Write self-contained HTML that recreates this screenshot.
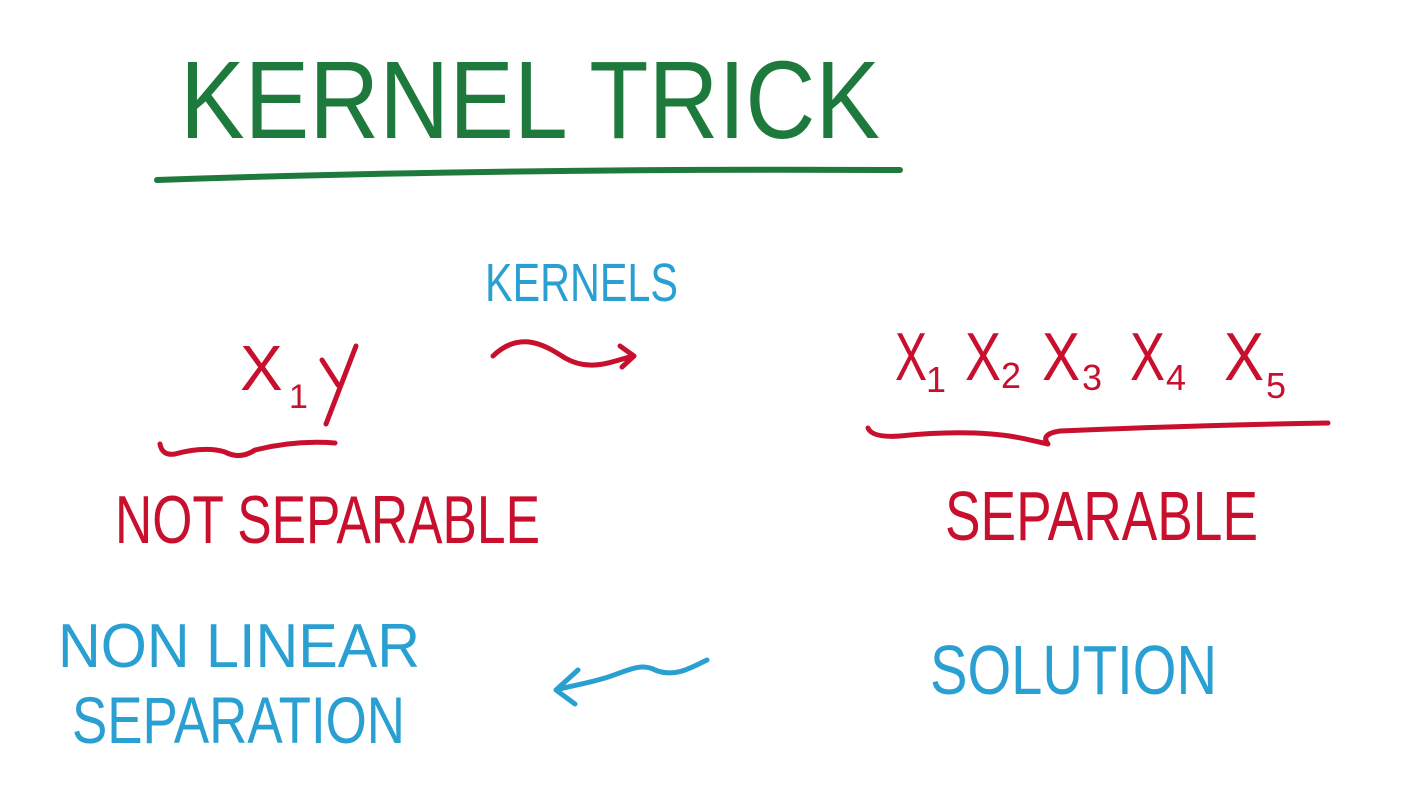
<!DOCTYPE html>
<html><head><meta charset="utf-8"><style>
html,body{margin:0;padding:0;background:#fff;}
svg{display:block}
text{font-family:"Liberation Sans",sans-serif;}
</style></head><body>
<svg width="1422" height="790" viewBox="0 0 1422 790" xmlns="http://www.w3.org/2000/svg">
<g fill="none" stroke-linecap="round" stroke-linejoin="round">
<path d="M157 180 Q500 168 900 170" stroke="#1e7a3c" stroke-width="6"/>
<path d="M493 356 C520 330 545 345 565 358 C590 372 610 362 633 356 M620 346 L634 356 L622 367" stroke="#c8102e" stroke-width="5"/>
<path d="M160 444 Q162 456 175 454 Q205 446 225 452 Q240 460 255 450 Q295 440 335 443" stroke="#c8102e" stroke-width="5"/>
<path d="M868 428 Q872 438 900 436 Q980 428 1030 440 L1048 444 Q1040 434 1060 431 Q1200 425 1328 423" stroke="#c8102e" stroke-width="5"/>
<path d="M707 660 C690 668 675 678 655 670 C640 662 625 672 605 678 C585 684 570 686 556 690 M578 670 L556 690 L575 704" stroke="#2a9fd1" stroke-width="5"/>
<path d="M322 360 L338 385 M356 346 L326 424" stroke="#c8102e" stroke-width="5"/>
</g>
<g font-weight="normal">
<text x="180" y="138" font-size="110" fill="#1e7a3c" textLength="700" lengthAdjust="spacingAndGlyphs">KERNEL  TRICK</text>
<text x="485" y="301" font-size="54" fill="#2a9fd1" textLength="193" lengthAdjust="spacingAndGlyphs">KERNELS</text>
<text x="240" y="390" font-size="64" fill="#c8102e">X</text>
<text x="289" y="408" font-size="34" fill="#c8102e">1</text>
<g fill="#c8102e">
<text x="895" y="380" font-size="68" textLength="32" lengthAdjust="spacingAndGlyphs">X</text><text x="926" y="392" font-size="36">1</text>
<text x="965" y="380" font-size="68" textLength="36" lengthAdjust="spacingAndGlyphs">X</text><text x="1001" y="388" font-size="36">2</text>
<text x="1042" y="380" font-size="68" textLength="38" lengthAdjust="spacingAndGlyphs">X</text><text x="1082" y="390" font-size="36">3</text>
<text x="1130" y="380" font-size="68" textLength="35" lengthAdjust="spacingAndGlyphs">X</text><text x="1166" y="390" font-size="36">4</text>
<text x="1224" y="380" font-size="68" textLength="40" lengthAdjust="spacingAndGlyphs">X</text><text x="1266" y="398" font-size="36">5</text>
</g>
<text x="115" y="543" font-size="68" fill="#c8102e" textLength="425" lengthAdjust="spacingAndGlyphs">NOT SEPARABLE</text>
<text x="945" y="540" font-size="70" fill="#c8102e" textLength="313" lengthAdjust="spacingAndGlyphs">SEPARABLE</text>
<text x="58" y="667" font-size="62" fill="#2a9fd1" textLength="362" lengthAdjust="spacingAndGlyphs">NON LINEAR</text>
<text x="72" y="743" font-size="66" fill="#2a9fd1" textLength="333" lengthAdjust="spacingAndGlyphs">SEPARATION</text>
<text x="930" y="694" font-size="70" fill="#2a9fd1" textLength="287" lengthAdjust="spacingAndGlyphs">SOLUTION</text>
</g>
</svg>
</body></html>
